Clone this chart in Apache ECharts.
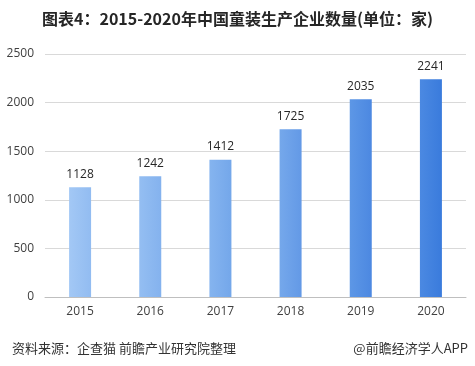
<!DOCTYPE html>
<html><head><meta charset="utf-8">
<script src="https://cdn.jsdelivr.net/npm/echarts@6/dist/echarts.min.js"></script>
<style>html,body{margin:0;padding:0;background:#fff}#c{width:475px;height:366px}</style>
</head><body><div id="c"></div>
<script>
const categories = ['2015','2016','2017','2018','2019','2020'];
const values = [1128, 1242, 1412, 1725, 2035, 2241];
const yTicks = [0, 500, 1000, 1500, 2000, 2500];
const barColors = [['#a3c8f5','#92bcf1'],['#94bef2','#84b2ee'],['#85b4ef','#74a7ea'],['#75a8eb','#6399e6'],['#5d97e6','#4c88e1'],['#4b89e2','#3a7bdc']];

const chart = echarts.init(document.getElementById('c'), null, {renderer:'canvas'});
chart.setOption({
  backgroundColor:'#fff',
  animation:false,
  title:[{
    text:'图表4：2015-2020年中国童装生产企业数量(单位：家)',
    left:'center', top:6,
    textStyle:{fontSize:16, fontWeight:'bold', color:'#262626', fontFamily:'"Noto Sans CJK SC", sans-serif'}
  },{
    text:'资料来源：企查猫 前瞻产业研究院整理',
    left:7, top:337,
    textStyle:{fontSize:13, fontWeight:'normal', color:'#333', fontFamily:'"Noto Sans CJK SC", sans-serif'}
  },{
    text:'@前瞻经济学人APP',
    right:2, top:337,
    textStyle:{fontSize:13, fontWeight:'normal', color:'#333', fontFamily:'"Noto Sans CJK SC", sans-serif'}
  }],
  grid:{left:45, right:9, top:54, bottom:69, containLabel:false},
  xAxis:{
    type:'category', data:categories,
    axisLine:{lineStyle:{color:'#bfbfbf'}},
    axisTick:{show:false},
    axisLabel:{color:'#404040', fontSize:12, margin:9, fontFamily:'"Open Sans", sans-serif'}
  },
  yAxis:{
    type:'value', min:yTicks[0], max:yTicks[yTicks.length-1], interval:500,
    axisLine:{show:false}, axisTick:{show:false},
    splitLine:{lineStyle:{color:'#d9d9d9'}},
    axisLabel:{color:'#404040', fontSize:12, margin:11, formatter:v=>String(v), fontFamily:'"Open Sans", sans-serif'}
  },
  series:[{
    type:'bar',
    data:values.map((v,i)=>({value:v, itemStyle:{color:new echarts.graphic.LinearGradient(0,0,1,0,[{offset:0,color:barColors[i][0]},{offset:1,color:barColors[i][1]}])}})),
    barWidth:22,
    label:{show:true, position:'top', distance:7, color:'#262626', fontSize:12, fontFamily:'"Open Sans", sans-serif'}
  }]
});
</script></body></html>
